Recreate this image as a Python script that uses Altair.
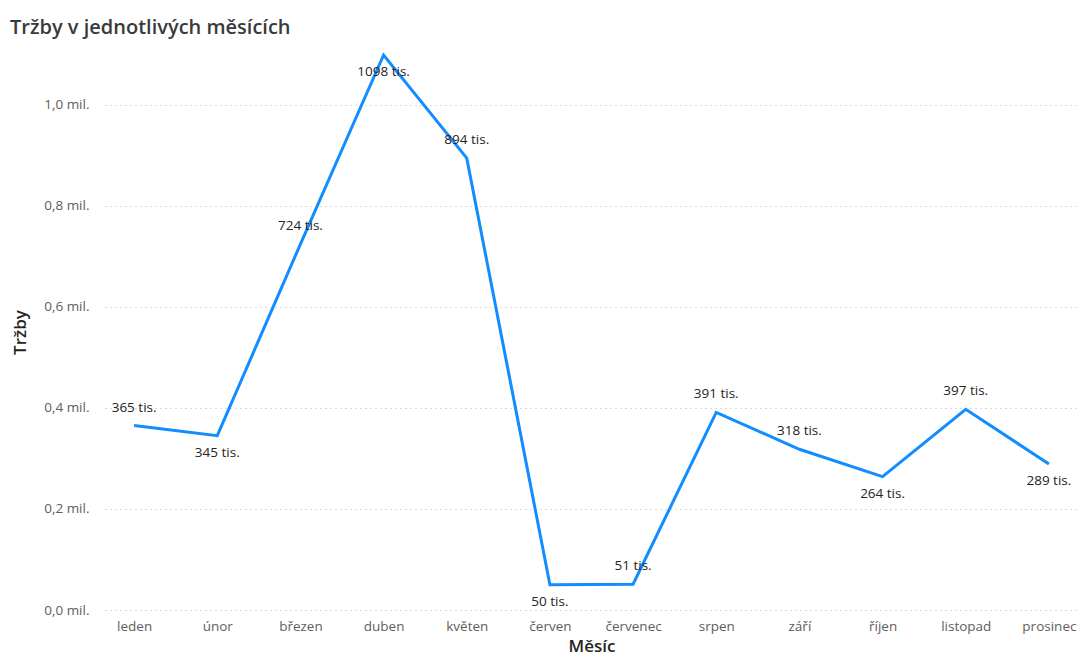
import altair as alt
import pandas as pd

months = ["leden", "únor", "březen", "duben", "květen", "červen",
          "červenec", "srpen", "září", "říjen", "listopad", "prosinec"]
sales = [365000, 345000, 724000, 1098000, 894000, 50000,
         51000, 391000, 318000, 264000, 397000, 289000]
labels_below = ["únor", "duben", "červen", "říjen", "prosinec"]

df = pd.DataFrame({"Měsíc": months, "Tržby": sales})
df["pos"] = ["below" if m in labels_below else "above" for m in months]

FONT = "Open Sans"

x = alt.X("Měsíc:N", sort=months, scale=alt.Scale(type="point", padding=0.35),
          axis=alt.Axis(title="Měsíc", labelAngle=0, labelColor="#605E5C",
                        labelFontSize=13.5, labelFont=FONT, labelPadding=9,
                        ticks=False, domain=False, grid=False,
                        titleFont=FONT, titleFontSize=17, titleColor="#252423",
                        titleFontWeight=600, titleY=36, titleBaseline="middle"))
y = alt.Y("Tržby:Q", scale=alt.Scale(domain=[0, 1100000], nice=False),
          axis=alt.Axis(title="Tržby", values=[0, 200000, 400000, 600000, 800000, 1000000],
                        labelExpr="replace(format(datum.value/1000000, '.1f'), '.', ',') + ' mil.'",
                        labelColor="#605E5C", labelFontSize=13.5, labelFont=FONT,
                        labelPadding=16, ticks=False, domain=False,
                        grid=True, gridColor="#B8B6B4", gridDash=[1, 4], gridWidth=1,
                        titleFont=FONT, titleFontSize=17, titleColor="#252423",
                        titleFontWeight=600, titleX=-85, titleY=278,
                        titleBaseline="middle"))

line = alt.Chart(df).mark_line(color="#118DFF", strokeWidth=3).encode(x=x, y=y)

text_base = alt.Chart(df).transform_calculate(
    lab="format(round(datum['Tržby']/1000), 'd') + ' tis.'"
)
above = text_base.transform_filter("datum.pos == 'above'").mark_text(
    dy=-18, fontSize=13.5, font=FONT, color="#252423", baseline="middle"
).encode(x=x, y=y, text="lab:N")
below = text_base.transform_filter("datum.pos == 'below'").mark_text(
    dy=17, fontSize=13.5, font=FONT, color="#252423", baseline="middle"
).encode(x=x, y=y, text="lab:N")

chart = alt.layer(line, above, below).properties(
    width=973, height=556,
    title=alt.TitleParams("Tržby v jednotlivých měsících", anchor="start",
                          frame="group", dx=-95, offset=11, fontSize=20,
                          font=FONT, fontWeight=600, color="#3A3A3A"),
    autosize=alt.AutoSizeParams(type="none"),
    padding={"left": 105, "top": 54, "right": 0, "bottom": 47},
    view=alt.ViewBackground(stroke="transparent", strokeWidth=0),
).configure(background="white")

chart.save("out.html", embed_options={"renderer": "svg", "actions": False})
